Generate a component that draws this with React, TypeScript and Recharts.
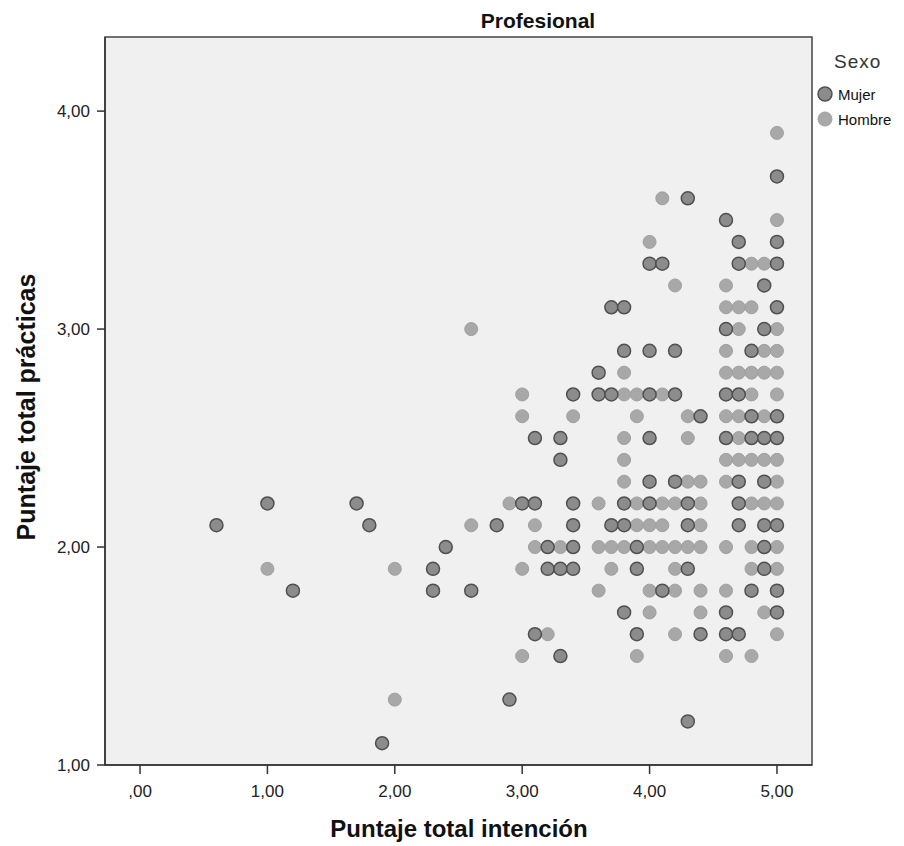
import React from "react";
import {
  ScatterChart,
  Scatter,
  XAxis,
  YAxis,
  CartesianGrid,
  ReferenceArea,
} from "recharts";

const chartTitle = "Profesional";
const xTitle = "Puntaje total intención";
const yTitle = "Puntaje total prácticas";
const legendTitle = "Sexo";
const seriesNames = ["Mujer", "Hombre"];
const xTicks = [0, 1, 2, 3, 4, 5];
const yTicks = [1, 2, 3, 4];
const xDomain = [-0.275, 5.275];
const yDomain = [1, 4.34];

// [intención, prácticas]
const mujerPoints: [number, number][] = [
  [0.6, 2.1], [1.0, 2.2], [1.2, 1.8], [1.7, 2.2], [1.8, 2.1], [1.9, 1.1],
  [2.3, 1.9], [2.3, 1.8], [2.4, 2.0], [2.6, 1.8], [2.8, 2.1], [2.9, 1.3],
  [3.0, 2.2], [3.1, 2.2], [3.4, 2.2], [3.4, 2.1], [3.1, 2.5], [3.3, 2.5],
  [3.3, 2.4], [3.4, 2.7], [3.6, 2.8], [3.6, 2.7], [3.7, 2.7], [3.2, 2.0],
  [3.4, 2.0], [3.2, 1.9], [3.3, 1.9], [3.4, 1.9], [3.1, 1.6], [3.3, 1.5],
  [3.7, 3.1], [3.8, 3.1], [3.8, 2.9], [4.0, 2.9], [4.2, 2.9], [4.0, 2.7],
  [4.2, 2.7], [4.4, 2.6], [4.0, 2.5], [4.0, 2.3], [4.2, 2.3], [3.8, 2.2],
  [4.0, 2.2], [4.3, 2.2], [3.7, 2.1], [3.8, 2.1], [4.3, 2.1], [3.9, 2.0],
  [3.9, 1.9], [4.3, 1.9], [4.1, 1.8], [3.8, 1.7], [3.9, 1.6], [4.4, 1.6],
  [4.3, 1.2], [4.0, 3.3], [4.1, 3.3], [4.3, 3.6],
  [5.0, 3.7], [4.6, 3.5], [4.7, 3.4], [5.0, 3.4], [4.7, 3.3], [5.0, 3.3],
  [4.9, 3.2], [5.0, 3.1], [4.6, 3.0], [4.9, 3.0], [4.8, 2.9], [4.6, 2.7],
  [4.7, 2.7], [4.8, 2.6], [5.0, 2.6], [4.6, 2.5], [4.8, 2.5], [4.9, 2.5],
  [5.0, 2.5], [4.7, 2.3], [4.9, 2.3], [4.7, 2.2], [4.7, 2.1], [4.9, 2.1],
  [5.0, 2.1], [4.9, 2.0], [4.9, 1.9], [4.8, 1.8], [5.0, 1.8], [4.6, 1.7],
  [5.0, 1.7], [4.6, 1.6], [4.7, 1.6],
];

const hombrePoints: [number, number][] = [
  [1.0, 1.9], [2.0, 1.9], [2.0, 1.3], [2.6, 3.0], [2.6, 2.1], [2.9, 2.2],
  [3.0, 2.7], [3.0, 2.6], [3.4, 2.6], [3.6, 2.2], [3.1, 2.1], [3.1, 2.0],
  [3.3, 2.0], [3.6, 2.0], [3.0, 1.9], [3.6, 1.8], [3.2, 1.6], [3.0, 1.5],
  [4.1, 3.6], [4.0, 3.4], [4.2, 3.2], [3.8, 2.8], [3.8, 2.7], [3.9, 2.7],
  [4.1, 2.7], [3.9, 2.6], [4.3, 2.6], [3.8, 2.5], [4.3, 2.5], [3.8, 2.4],
  [3.8, 2.3], [4.3, 2.3], [4.4, 2.3], [3.9, 2.2], [4.1, 2.2], [4.2, 2.2],
  [4.4, 2.2], [3.9, 2.1], [4.0, 2.1], [4.1, 2.1], [4.4, 2.1], [3.7, 2.0],
  [3.8, 2.0], [4.0, 2.0], [4.1, 2.0], [4.2, 2.0], [4.3, 2.0], [4.4, 2.0],
  [3.7, 1.9], [4.2, 1.9], [4.0, 1.8], [4.2, 1.8], [4.4, 1.8], [4.0, 1.7],
  [4.4, 1.7], [4.2, 1.6], [3.9, 1.5],
  [5.0, 3.9], [5.0, 3.5], [4.8, 3.3], [4.9, 3.3], [4.6, 3.2], [4.6, 3.1],
  [4.7, 3.1], [4.8, 3.1], [4.7, 3.0], [5.0, 3.0], [4.6, 2.9], [4.9, 2.9],
  [5.0, 2.9], [4.6, 2.8], [4.7, 2.8], [4.8, 2.8], [4.9, 2.8], [5.0, 2.8],
  [4.8, 2.7], [5.0, 2.7], [4.6, 2.6], [4.7, 2.6], [4.9, 2.6], [4.7, 2.5],
  [4.6, 2.4], [4.7, 2.4], [4.8, 2.4], [4.9, 2.4], [5.0, 2.4], [4.6, 2.3],
  [5.0, 2.3], [4.8, 2.2], [4.9, 2.2], [5.0, 2.2], [4.6, 2.0], [4.8, 2.0],
  [5.0, 2.0], [4.8, 1.9], [5.0, 1.9], [4.6, 1.8], [4.9, 1.7], [5.0, 1.6],
  [4.6, 1.5], [4.8, 1.5],
];

const FONT = "'Liberation Sans', Arial, sans-serif";
const MUJER_FILL = "#8c8c8c";
const MUJER_STROKE = "#505050";
const HOMBRE_FILL = "#a8a8a8";
const HOMBRE_STROKE = "#a0a0a0";

const toData = (pts: [number, number][]) => pts.map(([x, y]) => ({ x, y }));
const mujerData = toData(mujerPoints);
const hombreData = toData(hombrePoints);

const fmt = (v: number) => {
  const s = v.toFixed(2).replace(".", ",");
  return s.startsWith("0,") ? s.slice(1) : s;
};

const mujerShape = (p: any) => (
  <circle cx={p.cx} cy={p.cy} r={6.5} fill={MUJER_FILL} stroke={MUJER_STROKE} strokeWidth={1.5} />
);
const hombreShape = (p: any) => (
  <circle cx={p.cx} cy={p.cy} r={6.5} fill={HOMBRE_FILL} stroke={HOMBRE_STROKE} strokeWidth={1} />
);

const W = 896;
const H = 838;

export default function App() {
  const tickStyle = { fontSize: 17, fill: "#222", fontFamily: FONT };
  return (
    <div style={{ position: "relative", width: W, height: H }}>
      <ScatterChart
        width={W}
        height={H}
        margin={{ top: 29, right: 92, left: 0, bottom: 0 }}
      >
        <CartesianGrid horizontal={false} vertical={false} fill="#f0f0f0" />
        <XAxis
          type="number"
          dataKey="x"
          domain={xDomain}
          ticks={xTicks}
          allowDataOverflow
          tickFormatter={fmt}
          height={81}
          tickSize={9}
          tickMargin={11}
          tick={tickStyle}
          axisLine={{ stroke: "#333", strokeWidth: 1.5 }}
          tickLine={{ stroke: "#333", strokeWidth: 1.5 }}
        />
        <YAxis
          type="number"
          dataKey="y"
          domain={yDomain}
          ticks={yTicks}
          allowDataOverflow
          tickFormatter={fmt}
          width={97}
          tickSize={8}
          tickMargin={7}
          tick={tickStyle}
          axisLine={{ stroke: "#333", strokeWidth: 1.5 }}
          tickLine={{ stroke: "#333", strokeWidth: 1.5 }}
        />
        <Scatter
          name={seriesNames[1]}
          data={hombreData}
          shape={hombreShape}
          isAnimationActive={false}
        />
        <Scatter
          name={seriesNames[0]}
          data={mujerData}
          shape={mujerShape}
          isAnimationActive={false}
        />
        <ReferenceArea
          x1={xDomain[0]}
          x2={xDomain[1]}
          y1={yDomain[0]}
          y2={yDomain[1]}
          fill="none"
          fillOpacity={0}
          stroke="#444"
          strokeWidth={1.5}
          ifOverflow="visible"
        />
      </ScatterChart>
      <svg
        width={W}
        height={H}
        style={{ position: "absolute", left: 0, top: 0, pointerEvents: "none", overflow: "visible" }}
      >
        <text x={530} y={20} textAnchor="middle" fontFamily={FONT} fontWeight="bold" fontSize={21} fill="#111">
          {chartTitle}
        </text>
        <text x={451} y={829} textAnchor="middle" fontFamily={FONT} fontWeight="bold" fontSize={24} fill="#111">
          {xTitle}
        </text>
        <text
          transform="translate(27,399) rotate(-90)"
          textAnchor="middle"
          fontFamily={FONT}
          fontWeight="bold"
          fontSize={25}
          fill="#111"
        >
          {yTitle}
        </text>
        <text x={826} y={60} fontFamily={FONT} fontSize={19} letterSpacing={1} fill="#333">
          {legendTitle}
        </text>
        <circle cx={817} cy={86} r={7} fill={MUJER_FILL} stroke={MUJER_STROKE} strokeWidth={1.5} />
        <text x={830} y={92} fontFamily={FONT} fontSize={15} fill="#111">
          {seriesNames[0]}
        </text>
        <circle cx={817} cy={111} r={7} fill={HOMBRE_FILL} stroke={HOMBRE_STROKE} strokeWidth={1} />
        <text x={830} y={117} fontFamily={FONT} fontSize={15} fill="#111">
          {seriesNames[1]}
        </text>
      </svg>
    </div>
  );
}
